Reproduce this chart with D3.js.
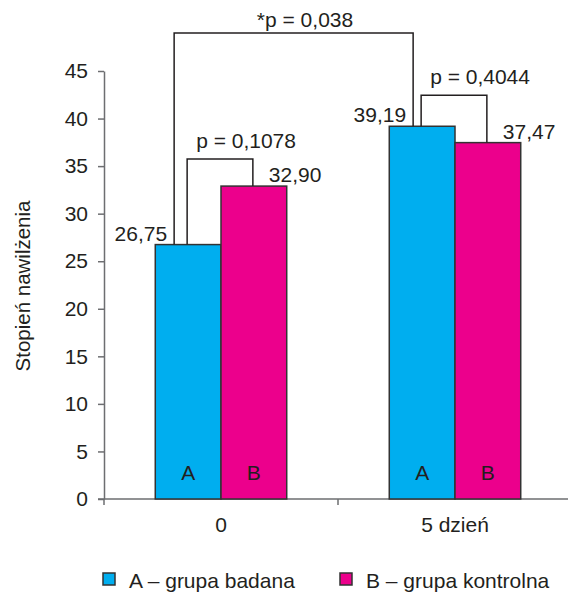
<!DOCTYPE html>
<html>
<head>
<meta charset="utf-8">
<script src="https://cdn.jsdelivr.net/npm/d3@7"></script>
<style>
  body { margin: 0; background: #fff; }
  text { font-family: "Liberation Sans", Arial, sans-serif; fill: #231f20; }
</style>
</head>
<body>
<div id="container"></div>
<script>
/**
 * DATA
 * */
const categories = ['0', '5 dzień']
const groups = ['A', 'B']
const groupNames = ['A – grupa badana', 'B – grupa kontrolna']
const valuesA = [26.75, 39.19]
const valuesB = [32.90, 37.47]
const valueLabelsA = ['26,75', '39,19']
const valueLabelsB = ['32,90', '37,47']
const yTicks = [0, 5, 10, 15, 20, 25, 30, 35, 40, 45]
const pWithin = ['p = 0,1078', 'p = 0,4044']
const pBetween = '*p = 0,038'

/**
 * CONSTANTS
 * */
const width = 568,
  height = 592,
  margin = { top: 71, bottom: 92, left: 104, right: -4 }
const colors = ['#00aeef', '#ec008c']
const lineCol = '#231f20'
const axisCol = '#6d6e71'

const svg = d3.select('#container')
  .append('svg')
  .attr('width', width)
  .attr('height', height)

// scales
const x = d3.scaleBand()
  .domain(categories)
  .range([margin.left, width - margin.right])

const x1 = d3.scaleBand()
  .domain(groups)
  .range([0, x.bandwidth()])
  .paddingOuter(0.78)

const y = d3.scaleLinear()
  .domain([0, 45])
  .range([height - margin.bottom - 1, margin.top])

const rows = categories.map((c, i) => ({ cat: c, vals: [valuesA[i], valuesB[i]] }))

// y axis
const yAxis = svg.append('g')
  .attr('transform', `translate(${margin.left},0)`)
  .call(d3.axisLeft(y).tickValues(yTicks).tickSize(6).tickSizeOuter(0).tickPadding(10))
yAxis.select('.domain').attr('stroke', axisCol).attr('stroke-width', 1.5)
yAxis.selectAll('.tick line').attr('stroke', axisCol).attr('stroke-width', 1.5)
yAxis.selectAll('.tick text').style('font-size', '21px').attr('fill', lineCol)

// x axis: line, boundary ticks, labels
const y0 = y(0)
svg.append('line')
  .attr('x1', margin.left - 6).attr('x2', width)
  .attr('y1', y0).attr('y2', y0)
  .attr('stroke', axisCol).attr('stroke-width', 1.5)

svg.selectAll('.xtick')
  .data(categories)
  .join('line')
  .attr('class', 'xtick')
  .attr('x1', d => x(d)).attr('x2', d => x(d))
  .attr('y1', y0).attr('y2', y0 + 6)
  .attr('stroke', axisCol).attr('stroke-width', 1.5)

svg.selectAll('.xlabel')
  .data(categories)
  .join('text')
  .attr('class', 'xlabel')
  .attr('x', d => x(d) + x.bandwidth() / 2)
  .attr('y', y0 + 33)
  .attr('text-anchor', 'middle')
  .style('font-size', '21px')
  .text(d => d)

// bars
const gCat = svg.selectAll('.cat')
  .data(rows)
  .join('g')
  .attr('class', 'cat')
  .attr('transform', d => `translate(${x(d.cat)},0)`)

gCat.selectAll('rect')
  .data(d => d.vals.map((v, j) => ({ g: groups[j], v: v, j: j })))
  .join('rect')
  .attr('x', d => x1(d.g))
  .attr('y', d => y(d.v))
  .attr('width', x1.bandwidth())
  .attr('height', d => y0 - y(d.v))
  .attr('fill', d => colors[d.j])
  .attr('stroke', '#333')
  .attr('stroke-width', 1.5)

// A / B letters inside bars
gCat.selectAll('.letter')
  .data(groups)
  .join('text')
  .attr('class', 'letter')
  .attr('x', d => x1(d) + x1.bandwidth() / 2)
  .attr('y', y0 - 19)
  .attr('text-anchor', 'middle')
  .style('font-size', '21px')
  .text(d => d)

const cx = (i, j) => x(categories[i]) + x1(groups[j]) + x1.bandwidth() / 2

// bracket helper
function bracket(xl, yl, xr, yr, top) {
  svg.append('path')
    .attr('d', `M${xl},${yl}V${top}H${xr}V${yr}`)
    .attr('fill', 'none')
    .attr('stroke', lineCol)
    .attr('stroke-width', 1.5)
}

// within-day brackets
categories.forEach((c, i) => {
  const xl = cx(i, 0) - 1, xr = cx(i, 1) - 1
  const top = Math.min(y(valuesA[i]), y(valuesB[i])) - (i === 0 ? 27 : 31)
  bracket(xl, y(valuesA[i]), xr, y(valuesB[i]), top)
  svg.append('text')
    .attr('x', xl + 9)
    .attr('y', top - 11)
    .style('font-size', '21px')
    .text(pWithin[i])
})

// between-days bracket
const bl = cx(0, 0) - 14, br = cx(1, 0) - 9, btop = 33
bracket(bl, y(valuesA[0]), br, y(valuesA[1]), btop)
svg.append('text')
  .attr('x', 305)
  .attr('y', btop - 6)
  .attr('text-anchor', 'middle')
  .style('font-size', '21px')
  .text(pBetween)

// value labels
categories.forEach((c, i) => {
  svg.append('text')
    .attr('x', (i === 0 ? bl : br) - 7)
    .attr('y', y(valuesA[i]) - 4)
    .attr('text-anchor', 'end')
    .style('font-size', '21px')
    .text(valueLabelsA[i])
  svg.append('text')
    .attr('x', cx(i, 1) + 15)
    .attr('y', y(valuesB[i]) - 4)
    .style('font-size', '21px')
    .text(valueLabelsB[i])
})

// y title
svg.append('text')
  .attr('transform', 'translate(30,286) rotate(-90)')
  .attr('text-anchor', 'middle')
  .style('font-size', '20.5px')
  .text('Stopień nawilżenia')

// legend
const legX = [103, 340]
const leg = svg.selectAll('.leg')
  .data(groupNames)
  .join('g')
  .attr('class', 'leg')
  .attr('transform', (d, i) => `translate(${legX[i]},573)`)
leg.append('rect')
  .attr('width', 12).attr('height', 12)
  .attr('fill', (d, i) => colors[i])
  .attr('stroke', '#333').attr('stroke-width', 1.5)
leg.append('text')
  .attr('x', 26).attr('y', 15)
  .style('font-size', '21px')
  .text(d => d)
</script>
</body>
</html>
